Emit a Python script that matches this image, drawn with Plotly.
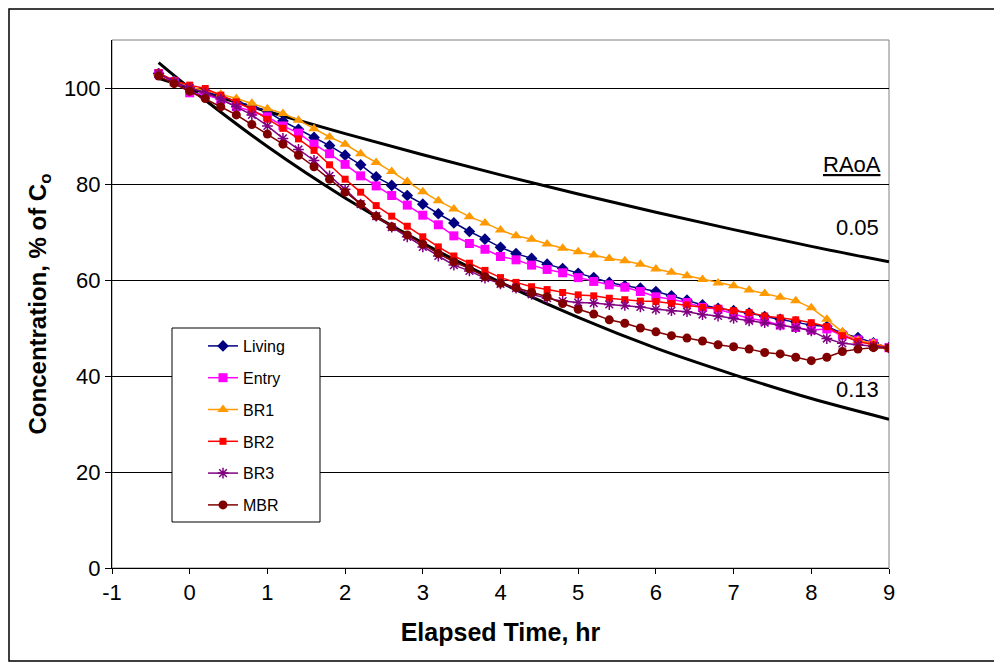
import plotly.graph_objects as go

# Elapsed time, hr (sampling every 0.2 hr)
time_hr = [-0.4, -0.2, 0.0, 0.2, 0.4, 0.6, 0.8, 1.0, 1.2, 1.4, 1.6, 1.8, 2.0, 2.2, 2.4, 2.6,
           2.8, 3.0, 3.2, 3.4, 3.6, 3.8, 4.0, 4.2, 4.4, 4.6, 4.8, 5.0, 5.2, 5.4, 5.6, 5.8,
           6.0, 6.2, 6.4, 6.6, 6.8, 7.0, 7.2, 7.4, 7.6, 7.8, 8.0, 8.2, 8.4, 8.6, 8.8, 9.0]

living = [103.0, 101.5, 100.0, 99.3, 98.3, 97.3, 96.2, 95.1, 93.1, 91.4, 89.7, 88.0, 86.0, 84.0, 81.5, 79.7,
          77.6, 75.8, 73.8, 71.9, 70.1, 68.5, 66.8, 65.5, 64.5, 63.3, 62.4, 61.4, 60.5, 59.5, 58.8, 58.3,
          57.6, 56.7, 55.8, 54.8, 54.1, 53.6, 53.1, 52.4, 51.8, 51.3, 50.6, 50.3, 48.9, 48.0, 46.9, 45.9]

entry = [103.0, 101.3, 99.0, 98.6, 97.6, 96.1, 95.2, 94.0, 92.1, 90.6, 88.3, 86.3, 84.1, 81.7, 79.6, 77.6,
         75.6, 73.5, 71.5, 69.2, 67.6, 66.4, 64.9, 64.2, 63.1, 62.2, 61.5, 60.5, 59.7, 59.0, 58.5, 57.6,
         56.5, 56.0, 55.3, 54.3, 53.9, 53.0, 52.0, 51.5, 50.6, 50.1, 49.6, 49.8, 48.5, 47.5, 46.8, 45.9]

br1 = [103.0, 101.5, 100.2, 99.5, 98.7, 97.8, 96.8, 95.7, 94.7, 93.3, 91.5, 89.8, 88.3, 86.3, 84.5, 82.6,
       80.5, 78.4, 76.5, 74.8, 73.2, 71.9, 70.4, 69.2, 68.5, 67.5, 66.6, 65.9, 65.2, 64.5, 64.0, 63.3,
       62.3, 61.6, 60.9, 60.1, 59.4, 58.8, 57.9, 57.2, 56.4, 55.7, 54.2, 51.8, 49.2, 47.4, 46.9, 45.9]

br2 = [103.2, 101.5, 100.6, 99.9, 98.5, 97.1, 95.5, 93.5, 91.6, 89.4, 87.0, 84.0, 81.0, 78.3, 75.5, 73.3,
       71.2, 69.0, 66.9, 65.0, 63.5, 62.0, 60.5, 59.5, 58.6, 58.0, 57.4, 56.9, 56.7, 56.2, 55.9, 55.6,
       55.5, 55.1, 54.8, 54.3, 54.1, 53.6, 53.2, 52.5, 52.1, 51.7, 51.1, 50.3, 48.4, 47.2, 46.5, 45.9]

br3 = [103.0, 101.3, 100.0, 99.0, 97.7, 96.1, 94.4, 92.1, 89.5, 87.2, 84.9, 81.7, 78.9, 75.8, 73.3, 71.0,
       69.0, 66.9, 65.0, 63.1, 61.9, 60.4, 59.2, 58.3, 57.0, 56.2, 55.6, 55.3, 55.2, 54.9, 54.7, 54.4,
       53.9, 53.6, 53.4, 52.8, 52.5, 52.0, 51.5, 51.1, 50.6, 50.1, 49.4, 47.8, 46.8, 46.5, 46.2, 45.9]

mbr = [102.5, 100.9, 99.3, 97.8, 96.1, 94.4, 92.4, 90.4, 88.3, 86.0, 83.6, 81.0, 78.3, 75.8, 73.3, 71.1,
       69.4, 67.5, 65.5, 63.8, 62.4, 60.7, 59.3, 58.4, 57.4, 56.5, 55.1, 53.9, 52.9, 51.7, 51.0, 50.0,
       49.2, 48.4, 47.9, 47.3, 46.5, 46.1, 45.6, 44.9, 44.6, 43.9, 43.2, 43.9, 45.1, 45.6, 45.9, 45.8]

# Reference decay curves (RAoA), read at whole hours
ref_time = [-0.4, 0, 1, 2, 3, 4, 5, 6, 7, 8, 9]
ref_005 = [102.0, 100.0, 95.1, 90.5, 86.1, 81.9, 77.9, 74.1, 70.5, 67.0, 63.8]
ref_013 = [105.3, 100.0, 87.8, 77.1, 67.7, 59.5, 52.2, 45.8, 40.3, 35.3, 31.0]

x_ticks = [-1, 0, 1, 2, 3, 4, 5, 6, 7, 8, 9]
x_tick_labels = ["-1", "0", "1", "2", "3", "4", "5", "6", "7", "8", "9"]
y_ticks = [0, 20, 40, 60, 80, 100]

series_names = ["Living", "Entry", "BR1", "BR2", "BR3", "MBR"]
series_values = [living, entry, br1, br2, br3, mbr]
series_colors = ["#000080", "#FF00FF", "#FF9900", "#FF0000", "#800080", "#800000"]
series_symbols = ["diamond", "square", "triangle-up", "square", "asterisk-open", "circle"]
series_sizes = [9, 9, 10, 7, 9, 9]

FONT = "Liberation Sans, Arial, sans-serif"

fig = go.Figure()

for xs, ys in [(ref_time, ref_005), (ref_time, ref_013)]:
    fig.add_trace(go.Scatter(x=xs, y=ys, mode="lines", line=dict(color="black", width=3, shape="spline"),
                             showlegend=False, hoverinfo="skip"))

for name, vals, col, sym, sz in zip(series_names, series_values, series_colors,
                                    series_symbols, series_sizes):
    fig.add_trace(go.Scatter(
        x=time_hr, y=vals, name=name, mode="lines+markers", legendgroup=name,
        line=dict(color=col, width=1.5),
        marker=dict(symbol=sym, size=sz, color=col, line=dict(color=col, width=1.5 if "open" in sym else 0)),
    ))

# figure sits inside the page's 8px body margin
W, H = 994, 655
OFF = 8
ml, mr, mt, mb = 104, 113, 32, 95
pw, ph = W - ml - mr, H - mt - mb

def px_x(p):
    return (p - OFF - ml) / pw

def px_y(p):
    return (H - mb - (p - OFF)) / ph

fig.update_layout(
    width=W, height=H,
    margin=dict(l=ml, r=mr, t=mt, b=mb),
    paper_bgcolor="white", plot_bgcolor="white",
    font=dict(family=FONT, color="black", size=22),
    xaxis=dict(range=[-1, 9], tickmode="array", tickvals=x_ticks, ticktext=x_tick_labels,
               showgrid=False, zeroline=False,
               showline=True, linecolor="black", linewidth=1, ticks="outside", ticklen=5,
               tickcolor="black", tickfont=dict(size=22),
               title=dict(text="<b>Elapsed Time, hr</b>", font=dict(size=25), standoff=19)),
    yaxis=dict(range=[0, 110], tickmode="array", tickvals=y_ticks, showgrid=True,
               gridcolor="black", gridwidth=1, zeroline=False, showline=True, linecolor="black",
               linewidth=1, ticks="outside", ticklen=6, tickcolor="black", tickfont=dict(size=22),
               title=dict(text="<b>Concentration, % of C<sub>o</sub></b>", font=dict(size=24), standoff=10)),
    legend=dict(x=px_x(203), y=px_y(329), xanchor="left", yanchor="top", bgcolor="rgba(0,0,0,0)",
                borderwidth=0, font=dict(size=16), tracegroupgap=8, traceorder="grouped"),
    shapes=[
        dict(type="rect", xref="paper", yref="paper", x0=0, x1=1, y0=0, y1=1,
             line=dict(color="#808080", width=1), layer="below"),
        dict(type="rect", xref="paper", yref="paper", x0=px_x(172), x1=px_x(320),
             y0=px_y(522), y1=px_y(328), line=dict(color="black", width=1), fillcolor="white", layer="above"),
        dict(type="rect", xref="paper", yref="paper", x0=px_x(9), x1=px_x(1040),
             y0=px_y(661), y1=px_y(9), line=dict(color="black", width=1.5), layer="below"),
    ],
    annotations=[
        dict(x=8.92, y=84, xref="x", yref="y", text="<u>RAoA</u>", showarrow=False, xanchor="right",
             font=dict(size=22)),
        dict(x=8.9, y=71, xref="x", yref="y", text="0.05", showarrow=False, xanchor="right",
             font=dict(size=22)),
        dict(x=8.9, y=37.2, xref="x", yref="y", text="0.13", showarrow=False, xanchor="right",
             font=dict(size=22)),
    ],
)

fig.write_html("out.html")
